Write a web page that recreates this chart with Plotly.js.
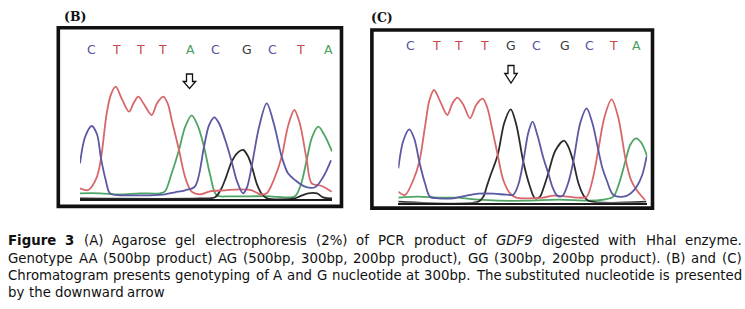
<!DOCTYPE html>
<html>
<head>
<meta charset="utf-8">
<script src="https://cdn.plot.ly/plotly-3.0.1.min.js"></script>
<style>
  html, body { margin: 0; padding: 0; background: #ffffff; }
  #chart { width: 745px; height: 309px; }
</style>
</head>
<body>
<div id="chart"></div>
<script>
// ---------------- DATA ----------------
// Panel (B): scan position vs signal intensity, one array pair per dye
const bBlueX  = [0, 5, 11.7, 17, 21, 25.7, 30, 40, 55, 70, 85, 95, 105, 115, 124, 129, 134.3, 139, 145, 151.7, 157, 163, 167, 171.7, 179, 186.7, 194, 201.7, 208, 215, 225, 235, 243, 251];
const bBlueY  = [36, 62, 73.3, 65, 41, 19.3, 6, 4, 4, 4, 5, 7, 9, 13, 52.6, 74, 82, 76, 60, 37.6, 18, 6, 12, 33, 72, 96, 75, 42.6, 26, 19.3, 12.6, 12, 22, 39];
const bRedX   = [0, 8.3, 16.7, 21, 26.7, 31, 35.7, 42, 49, 54, 58.3, 64, 71.7, 77, 83.3, 88, 91.7, 99, 105, 111.7, 120, 130, 145, 160, 172, 180, 186.7, 194, 201.7, 208, 214.3, 220, 226.7, 231.7, 241.7, 251.7];
const bRedY   = [11, 9.3, 22, 41, 86, 105, 112.6, 100, 87.6, 97, 102.6, 95, 84.3, 96, 102.6, 95, 79.3, 49.3, 22.6, 7.6, 5, 8, 9, 10, 9, 5, 6, 20, 42.6, 73, 89.3, 75, 39.3, 16, 13.3, 7.6];
const bGreenX = [0, 20, 40, 60, 80, 85, 91.7, 99, 105, 111.7, 118, 124, 130, 136.7, 150, 170, 190, 205, 215, 221, 226.7, 232, 238.3, 244, 250, 252];
const bGreenY = [6, 6, 5, 6, 6, 8, 26, 49.3, 72, 84, 73, 52.6, 25, 4, 3, 3, 3, 2, 3, 15, 39.3, 62, 72.6, 65, 52.6, 48];
const bBlackX = [0, 120, 135, 141, 146, 151.7, 157, 163.3, 168, 171.7, 177, 182, 187, 215, 220, 228, 237, 243, 252];
const bBlackY = [0.8, 0.8, 2, 10, 22, 37.6, 46, 49.3, 43, 33.3, 15, 5, 1, 1, 3, 6, 6, 2, 1];

// Panel (C)
const cBlueX  = [0, 5, 11, 16, 21, 26.7, 31.7, 40, 55, 68, 80, 95, 108, 115, 120, 125, 130, 134.3, 139, 145, 150, 154, 158.3, 162, 165, 170, 175, 182, 188.3, 194, 200, 204, 208.3, 215, 225, 232, 238.3, 244, 248.3];
const cBlueY  = [34.4, 62, 73.4, 64, 41, 19.4, 6, 4.4, 4.4, 7, 9, 9, 8, 8, 18, 41, 70, 81, 68, 45, 29.4, 16, 7.7, 6, 7.7, 20, 41, 80, 94.4, 80, 52.7, 35, 22.7, 7.7, 6, 9, 16, 28, 46];
const cRedX   = [0, 6.7, 15, 21, 26.7, 31, 35.7, 42, 49, 54, 59, 65, 71.7, 78, 84.4, 89, 93.4, 99.4, 105, 111.7, 118, 130, 145, 155, 170, 180, 188.3, 194, 200, 206, 213.3, 220, 227.4, 233, 238.3, 246.7];
const cRedY   = [11, 7.7, 22.7, 41, 76, 102, 112.7, 101, 87.7, 99, 105, 98, 84.4, 98, 104, 95, 76, 47.7, 22.7, 9.4, 5, 4.4, 5, 7, 6, 5, 6, 22, 52.7, 85, 103.4, 85, 42.7, 22, 12.7, 2.7];
const cGreenX = [0, 20, 40, 60, 80, 100, 130, 160, 190, 205, 215, 221, 227.4, 232, 237.7, 243, 249];
const cGreenY = [5, 6, 5, 5, 3, 2, 2, 3, 2, 3, 6, 20, 42.7, 58, 64.4, 60, 46];
const cBlackX = [0, 80, 85, 88.4, 91.7, 99.4, 106, 112.4, 118, 125, 131.7, 136.7, 141.7, 145, 150, 157, 165.7, 170, 175, 180, 185, 190, 248];
const cBlackY = [1, 1, 6, 16, 26, 47.7, 80, 93.4, 78, 41, 16, 4.4, 6, 14, 29.4, 52, 62, 56, 41, 20, 7.7, 2, 1];

// Base calls and their scan positions
const seqB    = ['C', 'T', 'T', 'T', 'A', 'C', 'G', 'C', 'T', 'A'];
const seqPosB = [11.7, 36.7, 60, 82.3, 110, 135, 166.7, 192.7, 220, 248.3];
const seqC    = ['C', 'T', 'T', 'T', 'G', 'C', 'G', 'C', 'T', 'A'];
const seqPosC = [11.7, 38.4, 60, 85.7, 112.7, 137.7, 166.4, 191, 215, 237.7];

// Caption (tokens: *bold*, _italic_)
const captionLines = [
  '*Figure* *3* (A) Agarose gel electrophoresis (2%) of PCR product of _GDF9_ digested with HhaI enzyme.',
  'Genotype AA (500bp product) AG (500bp, 300bp, 200bp product), GG (300bp, 200bp product). (B) and (C)',
  'Chromatogram presents genotyping of A and G nucleotide at 300bp. The substituted nucleotide is presented',
  'by the downward arrow'
];

// ---------------- STYLE / LAYOUT ----------------
const W = 745, H = 309;
const fx = px => px / W;
const fy = py => 1 - py / H;

const traceColor = { C: '#5b58a4', T: '#d8676b', A: '#4ea565', G: '#2b2b2b' };
const letterColor = { C: '#5552a3', T: '#c64550', A: '#4a9e5c', G: '#383838' };

function tr(x, y, color, ax) {
  return {
    type: 'scatter', mode: 'lines', x: x, y: y,
    xaxis: ax[0], yaxis: ax[1], hoverinfo: 'skip',
    line: { color: color, width: 1.8, shape: 'spline', smoothing: 0.9 }
  };
}
const axB = ['x', 'y'], axC = ['x2', 'y2'];
const data = [
  tr(bGreenX, bGreenY, traceColor.A, axB),
  tr(bBlackX, bBlackY, traceColor.G, axB),
  tr(bRedX, bRedY, traceColor.T, axB),
  tr(bBlueX, bBlueY, traceColor.C, axB),
  tr(cGreenX, cGreenY, traceColor.A, axC),
  tr(cBlackX, cBlackY, traceColor.G, axC),
  tr(cRedX, cRedY, traceColor.T, axC),
  tr(cBlueX, cBlueY, traceColor.C, axC)
];

function xax(d0, d1, r1, anchor) {
  return {
    domain: [fx(d0), fx(d1)], range: [0, r1], anchor: anchor,
    showgrid: false, zeroline: false, showticklabels: false, ticks: '',
    showline: true, linecolor: '#1a1a1a', linewidth: 2, fixedrange: true
  };
}
function yax(base, top, anchor) {
  return {
    domain: [fy(base), fy(top)], range: [0, base - top], anchor: anchor,
    visible: false, fixedrange: true
  };
}

const annotations = [];
const shapes = [];

// sequence letters
const seqFont = 'DejaVu Sans, Liberation Sans, sans-serif';
seqB.forEach((b, i) => annotations.push({
  xref: 'x', yref: 'paper', x: seqPosB[i], y: fy(49.3), text: b, showarrow: false,
  xanchor: 'center', yanchor: 'middle',
  font: { family: seqFont, size: 12.5, color: letterColor[b] }
}));
seqC.forEach((b, i) => annotations.push({
  xref: 'x2', yref: 'paper', x: seqPosC[i], y: fy(45.5), text: b, showarrow: false,
  xanchor: 'center', yanchor: 'middle',
  font: { family: seqFont, size: 12.5, color: letterColor[b] }
}));

// panel labels
annotations.push({ xref: 'paper', yref: 'paper', x: fx(75), y: fy(16.5), text: '<b>(B)</b>', showarrow: false,
  xanchor: 'center', yanchor: 'middle', font: { family: 'DejaVu Serif, serif', size: 12.5, color: '#111' } });
annotations.push({ xref: 'paper', yref: 'paper', x: fx(381.5), y: fy(17.5), text: '<b>(C)</b>', showarrow: false,
  xanchor: 'center', yanchor: 'middle', font: { family: 'DejaVu Serif, serif', size: 12.5, color: '#111' } });

// frames
function frame(l, t, r, b) {
  shapes.push({ type: 'rect', xref: 'paper', yref: 'paper', x0: fx(l), x1: fx(r), y0: fy(b), y1: fy(t),
    line: { color: '#111', width: 3.6 }, fillcolor: 'rgba(0,0,0,0)' });
}
frame(58.3, 27.8, 341.5, 206.4);
frame(371.9, 30.0, 652.5, 208.1);

// hollow down arrows
function arrow(cx, top, neck, tip) {
  const sw = 3, hw = 6.2;
  const P = (px, py) => fx(px).toFixed(5) + ',' + fy(py).toFixed(5);
  const path = 'M' + P(cx - sw, top) + ' L' + P(cx + sw, top) + ' L' + P(cx + sw, neck) +
    ' L' + P(cx + hw, neck) + ' L' + P(cx, tip) + ' L' + P(cx - hw, neck) +
    ' L' + P(cx - sw, neck) + ' Z';
  shapes.push({ type: 'path', xref: 'paper', yref: 'paper', path: path,
    line: { color: '#111', width: 1.3 }, fillcolor: '#ffffff' });
}
arrow(189.5, 74, 81.5, 88.5);
arrow(511, 65.5, 73.5, 83);

// caption, justified
const capFamily = 'DejaVu Sans';
const capLeft = 7, capRight = 741;
const capY = [241, 258, 275, 292];
const cv = document.createElement('canvas');
const ctx = cv.getContext('2d');
function tok(w) {
  if (w.length > 2 && w[0] === '*' && w[w.length - 1] === '*') return { t: w.slice(1, -1), b: true };
  if (w.length > 2 && w[0] === '_' && w[w.length - 1] === '_') return { t: w.slice(1, -1), i: true };
  return { t: w };
}
function measure(tk, fs) {
  ctx.font = (tk.i ? 'italic ' : '') + (tk.b ? 'bold ' : '') + fs + 'px "' + capFamily + '"';
  return ctx.measureText(tk.t).width;
}
const tokLines = captionLines.map(l => l.split(' ').map(tok));
let fs = 13.5;
const target = capRight - capLeft;
function natural(line, f) {
  ctx.font = f + 'px "' + capFamily + '"';
  const sp = ctx.measureText(' ').width;
  return line.reduce((s, t) => s + measure(t, f), 0) + sp * (line.length - 1);
}
let maxNat = Math.max(...tokLines.slice(0, 3).map(l => natural(l, fs)));
if (maxNat > target - 2) fs = fs * (target - 2) / maxNat;
fs = Math.floor(fs * 10) / 10;
ctx.font = fs + 'px "' + capFamily + '"';
const spaceW = ctx.measureText(' ').width;
tokLines.forEach((line, li) => {
  const widths = line.map(t => measure(t, fs));
  const sum = widths.reduce((a, b) => a + b, 0);
  const justify = li < 3;
  const gap = justify ? (target - sum) / (line.length - 1) : spaceW;
  let x = capLeft;
  line.forEach((t, k) => {
    let txt = t.t;
    if (t.b) txt = '<b>' + txt + '</b>';
    if (t.i) txt = '<i>' + txt + '</i>';
    annotations.push({ xref: 'paper', yref: 'paper', x: fx(x - 1), y: fy(capY[li]), text: txt,
      showarrow: false, xanchor: 'left', yanchor: 'middle',
      font: { family: capFamily, size: fs, color: '#111111' } });
    x += widths[k] + gap;
  });
});

const layout = {
  width: W, height: H,
  margin: { l: 0, r: 0, t: 0, b: 0, pad: 0 },
  paper_bgcolor: '#ffffff', plot_bgcolor: 'rgba(0,0,0,0)',
  showlegend: false,
  xaxis: xax(80, 332.3, 252.3, 'y'),
  yaxis: yax(199.3, 60, 'x'),
  xaxis2: xax(398.3, 647.3, 249, 'y2'),
  yaxis2: yax(202.7, 60, 'x2'),
  annotations: annotations,
  shapes: shapes
};

Plotly.newPlot('chart', data, layout, { staticPlot: true, displayModeBar: false });
</script>
</body>
</html>
